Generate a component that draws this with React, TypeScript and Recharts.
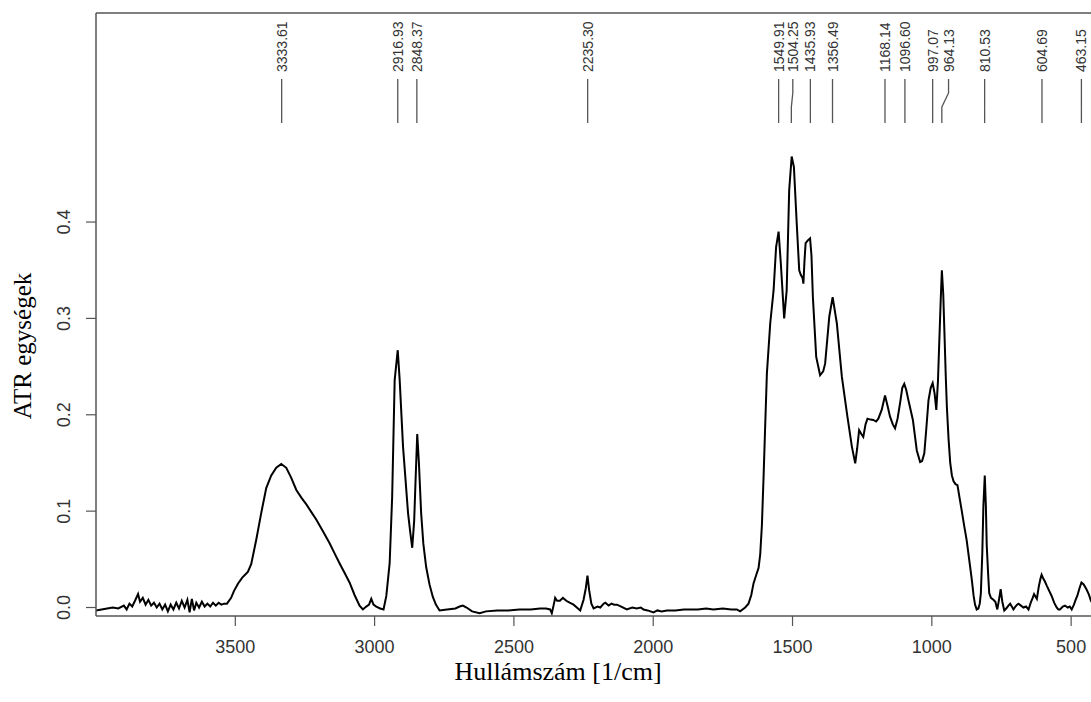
import React from 'react';
import { LineChart, Line, XAxis, YAxis, ReferenceLine, ReferenceDot } from 'recharts';

// ---- spectrum data (wavenumber [1/cm] and ATR absorbance) ----
const wnBaseline = [
  4000, 3980, 3960, 3940, 3920, 3900, 3890, 3880, 3870, 3860,
  3849, 3842, 3832, 3822, 3812, 3802, 3792, 3782, 3772, 3762,
  3752, 3742, 3732, 3722, 3712, 3702, 3692, 3682, 3672, 3664,
  3656, 3648, 3640, 3630, 3620, 3610, 3600, 3590, 3580, 3570,
  3560, 3550, 3540, 3530,
];
const absBaseline = [
  -0.003, -0.002, -0.001, 0.0, -0.001, 0.002, -0.002, 0.004, 0.001, 0.007,
  0.014, 0.006, 0.01, 0.003, 0.008, 0.002, 0.005, 0.0, 0.004, -0.002,
  0.003, -0.004, 0.003, -0.002, 0.005, -0.001, 0.007, 0.0, 0.008, -0.005,
  0.009, -0.003, 0.005, 0.0, 0.006, 0.001, 0.004, 0.001, 0.005, 0.002,
  0.005, 0.003, 0.004, 0.004,
];

const wnOH = [
  3515, 3505, 3490, 3475, 3455, 3443, 3425, 3407, 3389, 3371,
  3353, 3335, 3317, 3300, 3281, 3263, 3245, 3227, 3209, 3185,
  3162, 3145, 3126, 3108, 3090, 3072, 3054, 3042, 3030, 3020,
  3012, 3004, 2994, 2980, 2968,
];
const absOH = [
  0.01, 0.017, 0.025, 0.031, 0.037, 0.045, 0.07, 0.098, 0.124, 0.137,
  0.145, 0.149, 0.145, 0.135, 0.122, 0.114, 0.107, 0.099, 0.091, 0.079,
  0.067, 0.057, 0.046, 0.036, 0.026, 0.013, 0.002, -0.002, 0.001, 0.003,
  0.009, 0.003, 0.001, -0.001, -0.002,
];

const wnCH = [
  2958, 2946, 2937, 2928, 2917, 2910, 2898, 2880, 2872, 2865,
  2858, 2853, 2847, 2841, 2833, 2825, 2815, 2803, 2791, 2780,
  2767,
];
const absCH = [
  0.012, 0.046, 0.115, 0.236, 0.267, 0.236, 0.167, 0.098, 0.078, 0.062,
  0.09, 0.132, 0.18, 0.15, 0.098, 0.066, 0.042, 0.024, 0.011, 0.003,
  -0.003,
];

const wnMid = [
  2740, 2710, 2695, 2683, 2670, 2650, 2623, 2600, 2560, 2520,
  2480, 2440, 2406, 2385, 2370, 2364, 2357, 2352, 2345, 2335,
  2324, 2312, 2300, 2286, 2270, 2262, 2250, 2242, 2236, 2230,
  2222, 2214, 2200, 2190, 2178, 2172, 2160, 2150, 2140, 2130,
  2115, 2095, 2075, 2059, 2045, 2035, 2020, 1999, 1985, 1970,
  1951, 1920, 1890, 1867, 1840, 1810, 1784, 1750, 1720, 1700,
  1688, 1670, 1658, 1648, 1640, 1630, 1622,
];
const absMid = [
  -0.002, -0.001, 0.001, 0.002, 0.0, -0.004, -0.006, -0.004, -0.003, -0.003,
  -0.002, -0.002, -0.001, -0.001, -0.002, -0.006, 0.003, 0.01, 0.007, 0.007,
  0.01, 0.007, 0.005, 0.003, -0.001, -0.003, 0.008, 0.02, 0.033, 0.018,
  0.004, -0.001, 0.001, 0.0, 0.004, 0.005, 0.002, 0.004, 0.003, 0.003,
  0.001, -0.002, 0.0, -0.001, 0.0, -0.002, -0.003, -0.005, -0.003, -0.004,
  -0.003, -0.003, -0.002, -0.002, -0.002, -0.001, -0.002, -0.001, -0.002, -0.002,
  -0.004, 0.0, 0.004, 0.013, 0.025, 0.034, 0.041,
];

const wnFingerprint = [
  1616, 1610, 1604, 1598, 1592, 1580, 1568, 1559, 1550, 1542,
  1530, 1521, 1512, 1503, 1495, 1485, 1476, 1470, 1464, 1461,
  1457, 1453, 1445, 1437, 1432, 1427, 1415, 1401, 1390, 1383,
  1368, 1356, 1341, 1323, 1303, 1287, 1275, 1268, 1261, 1253,
  1246, 1238, 1231, 1220, 1210, 1200, 1192, 1180, 1168, 1158,
  1150, 1140, 1132, 1123, 1114, 1106, 1099, 1092, 1084, 1068,
  1054, 1042, 1035, 1027, 1020, 1012, 1004,
];
const absFingerprint = [
  0.055, 0.085, 0.135, 0.19, 0.243, 0.295, 0.329, 0.374, 0.39, 0.357,
  0.3, 0.329, 0.433, 0.468, 0.457, 0.399, 0.35, 0.345, 0.342, 0.336,
  0.36, 0.378, 0.381, 0.383, 0.365, 0.3225, 0.26, 0.241, 0.245, 0.253,
  0.302, 0.322, 0.295, 0.2395, 0.198, 0.167, 0.1496, 0.165, 0.184, 0.18,
  0.177, 0.19, 0.196, 0.195, 0.1946, 0.193, 0.196, 0.205, 0.22, 0.208,
  0.198, 0.19, 0.186, 0.196, 0.212, 0.228, 0.232, 0.226, 0.215, 0.1946,
  0.163, 0.151, 0.152, 0.16, 0.185, 0.215, 0.228,
];

const wnLow = [
  997, 990, 984, 978, 973, 968, 964, 959, 954, 950,
  946, 940, 934, 928, 922, 915, 908, 900, 893, 884,
  875, 866, 857, 850, 845, 839, 833, 828, 824, 819,
  815, 810, 806, 803, 798, 794, 788, 779, 772, 765,
  759, 753, 747, 740, 733, 725, 719, 713, 707, 700,
  694, 689, 680, 671, 662, 653, 645, 638, 633, 627,
  623, 616, 610, 606, 600, 594, 588, 580, 570, 561,
  552, 546, 540, 530, 522, 512, 505, 498, 490, 484,
  478, 470, 463, 455, 445, 437, 429, 420,
];
const absLow = [
  0.233, 0.222, 0.205, 0.235, 0.278, 0.32, 0.35, 0.325, 0.278, 0.24,
  0.208, 0.175, 0.15, 0.137, 0.131, 0.128, 0.127, 0.113, 0.101, 0.085,
  0.07, 0.05, 0.03, 0.012, 0.003, -0.002, -0.001, 0.004, 0.015, 0.055,
  0.105, 0.137, 0.105, 0.065, 0.035, 0.015, 0.01, 0.008, 0.006, -0.002,
  0.008, 0.019, 0.006, -0.003, -0.001, 0.002, 0.004, 0.001, -0.002, 0.001,
  0.003, 0.004, 0.002, 0.0, 0.001, -0.002, 0.005, 0.01, 0.014, 0.011,
  0.009, 0.022, 0.03, 0.034, 0.03, 0.027, 0.023, 0.018, 0.012, 0.005,
  0.0, -0.002, -0.002, 0.001, 0.002, 0.0, 0.001, -0.002, 0.003, 0.008,
  0.012, 0.02, 0.026, 0.024, 0.019, 0.014, 0.007, 0.003,
];

// ---- axes ----
const xTicks = [3500, 3000, 2500, 2000, 1500, 1000, 500];
const yTicks = [0, 0.1, 0.2, 0.3, 0.4];
const xDomain = [400, 4000];
const yDomain = [-0.0088, 0.6169];

// ---- peak annotations ----
const peakWavenumbers = [3333.61, 2916.93, 2848.37, 2235.3, 1549.91, 1504.25, 1435.93, 1356.49, 1168.14, 1096.6, 997.07, 964.13, 810.53, 604.69, 463.15];
const peakLabels = ['3333.61', '2916.93', '2848.37', '2235.30', '1549.91', '1504.25', '1435.93', '1356.49', '1168.14', '1096.60', '997.07', '964.13', '810.53', '604.69', '463.15'];
const peakLabelAt = [3333.61, 2916.93, 2848.37, 2235.3, 1549.91, 1499, 1435.93, 1356.49, 1168.14, 1096.6, 997.07, 940, 810.53, 604.69, 463.15];
const markerLevels = [0.5027, 0.5193, 0.5339, 0.5484];
const labelLevel = 0.5557;

const regionsWn = [wnBaseline, wnOH, wnCH, wnMid, wnFingerprint, wnLow];
const regionsAbs = [absBaseline, absOH, absCH, absMid, absFingerprint, absLow];

const spectrum: { wn: number; abs: number }[] = [];
regionsWn.forEach((wns, r) => {
  const vals = regionsAbs[r];
  const n = Math.min(wns.length, vals.length);
  for (let i = 0; i < n; i++) spectrum.push({ wn: wns[i], abs: vals[i] });
});

const SANS = '"Liberation Sans", Arial, sans-serif';
const SERIF = '"Liberation Serif", "Times New Roman", serif';
const AXIS_COLOR = '#555';

const YTick = (props: any) => {
  const { x, y, payload } = props;
  return (
    <text
      x={x}
      y={y}
      transform={`rotate(-90, ${x}, ${y})`}
      textAnchor="middle"
      fontSize={18}
      fill="#333"
      fontFamily={SANS}
    >
      {Number(payload.value).toFixed(1)}
    </text>
  );
};

const makePeakText = (label: string) => (p: any) => (
  <text
    x={p.cx}
    y={p.cy}
    transform={`rotate(-90, ${p.cx}, ${p.cy})`}
    dy="0.36em"
    textAnchor="start"
    fontSize={14}
    fill="#333"
    fontFamily={SANS}
  >
    {label}
  </text>
);

export default function App() {
  return (
    <div style={{ position: 'relative', width: 1091, height: 702, overflow: 'hidden' }}>
      <style>{'html, body { margin: 0; padding: 0; overflow: hidden; }'}</style>
      <LineChart
        width={1100}
        height={702}
        data={spectrum}
        margin={{ top: 13, right: 1, left: 26, bottom: 36 }}
      >
        <XAxis
          dataKey="wn"
          type="number"
          domain={xDomain}
          reversed
          allowDataOverflow
          ticks={xTicks}
          height={50}
          tickSize={10}
          tickMargin={14}
          axisLine={{ stroke: AXIS_COLOR, strokeWidth: 1.5 }}
          tickLine={{ stroke: AXIS_COLOR, strokeWidth: 1.2 }}
          tick={{ fontSize: 18, fill: '#333', fontFamily: SANS }}
        />
        <YAxis
          type="number"
          domain={yDomain}
          allowDataOverflow
          ticks={yTicks}
          width={70}
          tickSize={10}
          tickMargin={16}
          axisLine={{ stroke: AXIS_COLOR, strokeWidth: 1.5 }}
          tickLine={{ stroke: AXIS_COLOR, strokeWidth: 1.2 }}
          tick={<YTick />}
        />
        <ReferenceLine y={yDomain[1]} stroke={AXIS_COLOR} strokeWidth={1.5} ifOverflow="visible" />
        <Line
          type="linear"
          dataKey="abs"
          stroke="#000"
          strokeWidth={2}
          dot={false}
          activeDot={false}
          isAnimationActive={false}
        />
        {peakWavenumbers.map((wn, i) => {
          const at = peakLabelAt[i];
          return (
            <React.Fragment key={peakLabels[i]}>
              <ReferenceLine
                segment={[{ x: wn, y: markerLevels[0] }, { x: wn, y: markerLevels[1] }]}
                stroke={AXIS_COLOR}
                strokeWidth={1.3}
                ifOverflow="visible"
              />
              <ReferenceLine
                segment={[{ x: wn, y: markerLevels[1] }, { x: at, y: markerLevels[2] }]}
                stroke={AXIS_COLOR}
                strokeWidth={1.3}
                ifOverflow="visible"
              />
              <ReferenceLine
                segment={[{ x: at, y: markerLevels[2] }, { x: at, y: markerLevels[3] }]}
                stroke={AXIS_COLOR}
                strokeWidth={1.3}
                ifOverflow="visible"
              />
              <ReferenceDot
                x={at}
                y={labelLevel}
                r={0}
                ifOverflow="visible"
                shape={makePeakText(peakLabels[i])}
              />
            </React.Fragment>
          );
        })}
      </LineChart>
      <div
        style={{
          position: 'absolute',
          left: 558,
          top: 672,
          transform: 'translate(-50%, -50%)',
          fontFamily: SERIF,
          fontSize: 26,
          lineHeight: 1,
          whiteSpace: 'nowrap',
          color: '#000',
        }}
      >
        Hullámszám [1/cm]
      </div>
      <div
        style={{
          position: 'absolute',
          left: 22,
          top: 346,
          transform: 'translate(-50%, -50%) rotate(-90deg)',
          fontFamily: SERIF,
          fontSize: 25,
          lineHeight: 1,
          whiteSpace: 'nowrap',
          color: '#000',
        }}
      >
        ATR egységek
      </div>
    </div>
  );
}
